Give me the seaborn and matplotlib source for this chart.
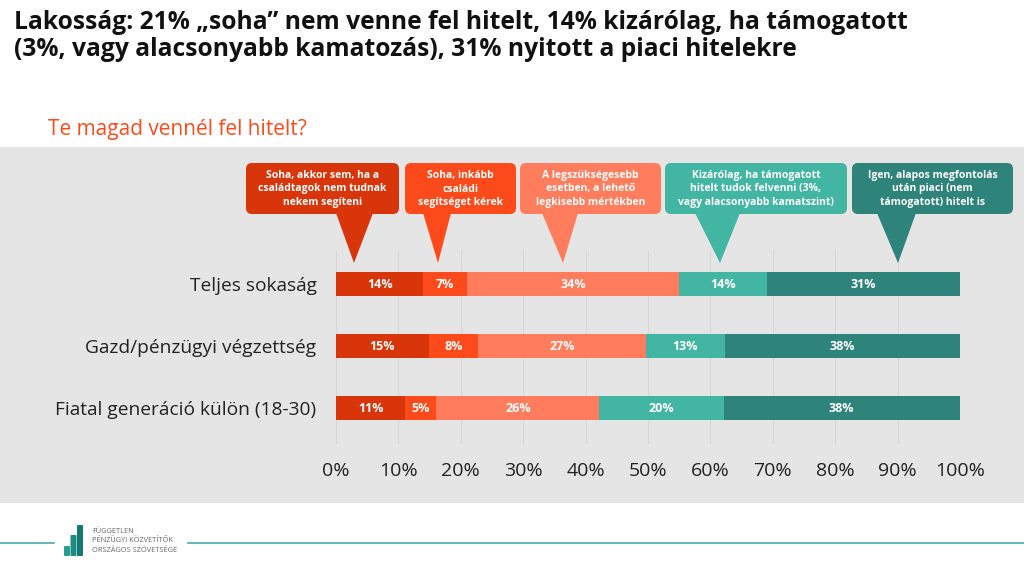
import matplotlib
matplotlib.use("Agg")
import matplotlib.pyplot as plt
import seaborn as sns
import pandas as pd
import numpy as np
from matplotlib.patches import FancyBboxPatch, Polygon, Rectangle

# ---------------- data ----------------
groups = ["Teljes sokaság", "Gazd/pénzügyi végzettség", "Fiatal generáció külön (18-30)"]
answers = [
    "Soha, akkor sem, ha a\ncsaládtagok nem tudnak\nnekem segíteni",
    "Soha, inkább\ncsaládi\nsegítséget kérek",
    "A legszükségesebb\nesetben, a lehető\nlegkisebb mértékben",
    "Kizárólag, ha támogatott\nhitelt tudok felvenni (3%,\nvagy alacsonyabb kamatszint)",
    "Igen, alapos megfontolás\nután piaci (nem\ntámogatott) hitelt is",
]
soha_akkor_sem = [14.0, 14.9, 11.1]
soha_csaladi = [7.0, 7.9, 5.0]
legszuksegesebb = [34.0, 26.8, 26.1]
kizarolag_tamogatott = [14.0, 12.8, 19.9]
igen_piaci = [31.0, 37.6, 37.9]
xticks = [0, 10, 20, 30, 40, 50, 60, 70, 80, 90, 100]

colors = ["#D9350A", "#FC4A1A", "#FF7C5C", "#43B5A3", "#2E847A"]
title = ("Lakosság: 21% „soha” nem venne fel hitelt, 14% kizárólag, ha támogatott\n"
         "(3%, vagy alacsonyabb kamatozás), 31% nyitott a piaci hitelekre")
subtitle = "Te magad vennél fel hitelt?"

series = [soha_akkor_sem, soha_csaladi, legszuksegesebb, kizarolag_tamogatott, igen_piaci]
df = pd.DataFrame({"group": groups})
cum = np.cumsum(np.array(series), axis=0)
for i in range(len(series)):
    df[f"c{i}"] = cum[i]

# ---------------- figure ----------------
W, H = 1024, 576
fig = plt.figure(figsize=(W / 100, H / 100), dpi=100)
fig.patch.set_facecolor("white")

bg = fig.add_axes([0, 0, 1, 1], zorder=0)
bg.set_xlim(0, W); bg.set_ylim(H, 0); bg.axis("off")
bg.add_patch(Rectangle((0, 147), W, 356, facecolor="#E5E5E5", edgecolor="none"))

def px_axes(l, t, r, b):
    return [l / W, 1 - b / H, (r - l) / W, (b - t) / H]

ax_top, ax_bot = 250, 444
ax = fig.add_axes(px_axes(336, ax_top, 960, ax_bot), zorder=1)
ax.set_facecolor("none")
for i in reversed(range(len(series))):
    sns.barplot(data=df, x=f"c{i}", y="group", orient="h", color=colors[i],
                width=0.4, saturation=1, ax=ax, zorder=3)
ax.set_xlim(0, 100)
ax.set_ylim(2 + (ax_bot - 408) / 62, -(284 - ax_top) / 62)
ax.set_xticks(xticks)
ax.set_xticklabels([f"{t}%" for t in xticks], fontsize=14, color="#222222", family="Open Sans")
ax.set_yticks(range(len(groups)))
ax.set_yticklabels(groups, fontsize=13.8, color="#222222", family="Open Sans")
ax.tick_params(axis="x", length=0, pad=13)
ax.tick_params(axis="y", length=0, pad=14)
ax.set_xlabel(""); ax.set_ylabel("")
for sp in ax.spines.values():
    sp.set_visible(False)
ax.grid(axis="x", color="#D6D6D6", linewidth=0.8, zorder=0)
ax.set_axisbelow(True)

# segment labels
for r in range(len(groups)):
    left = 0
    for i in range(len(series)):
        v = series[i][r]
        ax.text(left + v / 2, r, f"{round(v):.0f}%", ha="center", va="center",
                color="white", fontsize=9, fontweight="bold", family="Open Sans", zorder=5)
        left += v

# ---------------- callouts ----------------
ov = fig.add_axes([0, 0, 1, 1], zorder=2)
ov.set_xlim(0, W); ov.set_ylim(H, 0); ov.axis("off")
ov.patch.set_alpha(0)

boxes = [  # (left, right, tail_left, tail_right, tip_x)
    (246, 399, 336, 373, 354),
    (405, 516, 423, 451, 438),
    (520, 661, 542, 578, 563),
    (665, 847, 695, 740, 720),
    (852, 1013, 877, 916, 898),
]
top, bot, tip_y = 163, 214, 263
for (l, r, tl, tr, tx), col, txt in zip(boxes, colors, answers):
    ov.add_patch(FancyBboxPatch((l + 6, top + 6), r - l - 12, bot - top - 12,
                                boxstyle="round,pad=6", facecolor=col, edgecolor="none"))
    ov.add_patch(Polygon([(tl, bot - 1), (tr, bot - 1), (tx, tip_y)], closed=True,
                         facecolor=col, edgecolor="none"))
    ov.text((l + r) / 2, (top + bot) / 2 + 0.5, txt, ha="center", va="center", color="white",
            fontsize=7.5, fontweight="bold", family="Open Sans", linespacing=1.3)

# ---------------- titles ----------------
fig.text(14 / W, 1 - 10 / H, title, ha="left", va="top", fontsize=17.7, fontweight="bold",
         color="#111111", family="Open Sans", linespacing=1.12)
fig.text(48 / W, 1 - 130 / H, subtitle, ha="left", va="center", fontsize=15,
         color="#FC4A1A", family="Open Sans")

# ---------------- footer ----------------
teal = "#4AA7AE"
ov.plot([0, 54], [543, 543], color=teal, lw=1.2)
ov.plot([188, W], [543, 543], color=teal, lw=1.2)
for x0, y0, c in [(64, 546, "#2A9D8F"), (70.5, 535, "#1E8C82"), (77, 525, "#127A74")]:
    ov.add_patch(FancyBboxPatch((x0 + 1, y0 + 1), 4, 556 - y0 - 2, boxstyle="round,pad=1",
                                facecolor=c, edgecolor="none"))
ov.text(92, 541, "FÜGGETLEN\nPÉNZÜGYI KÖZVETÍTŐK\nORSZÁGOS SZÖVETSÉGE", ha="left", va="center",
        fontsize=5.3, color="#666666", family="Open Sans", linespacing=1.45)

fig.savefig("out.png", dpi=100, facecolor="white")
